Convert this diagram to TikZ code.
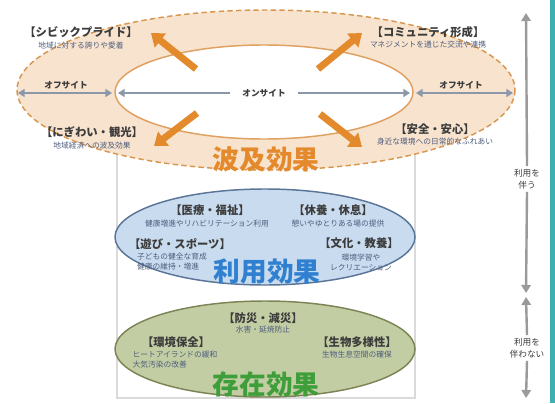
\documentclass[tikz,border=0pt]{standalone}
\usepackage{fontspec}
\setmainfont{Noto Sans CJK JP}
\usepackage{tikz}
\usetikzlibrary{arrows.meta}
\usepackage{color}

\definecolor{peach}{HTML}{F7E3CE}
\definecolor{dashorange}{HTML}{D9964F}
\definecolor{arroworange}{HTML}{E38B2C}
\definecolor{innerorange}{HTML}{E0A060}
\definecolor{sitegray}{HTML}{8C98AA}
\definecolor{bluefill}{HTML}{C9DBEF}
\definecolor{blueline}{HTML}{5A7598}
\definecolor{riyoublue}{HTML}{2F80D0}
\definecolor{greenfill}{HTML}{C3CDA3}
\definecolor{greenline}{HTML}{7C8456}
\definecolor{sonzaigreen}{HTML}{3E9E3A}
\definecolor{hakyuorange}{HTML}{E58A2C}
\definecolor{tealband}{HTML}{3DB0B6}
\definecolor{framegray}{HTML}{DADADA}
\definecolor{axisgray}{HTML}{9A9A9A}
\definecolor{titlegray}{HTML}{3C3C3C}
\definecolor{subblue}{HTML}{4E5D7C}

\begin{document}
\begin{tikzpicture}[x=0.75pt,y=0.75pt,yscale=-1,xscale=1,
  title/.style={font=\bfseries\fontsize{8.5}{10}\selectfont, text=titlegray, inner sep=0pt},
  sub/.style={font=\fontsize{5.8}{7.5}\selectfont, text=subblue, inner sep=0pt, align=center},
  sublft/.style={sub, align=left},
  site/.style={font=\bfseries\fontsize{6.5}{8}\selectfont, text=titlegray, inner sep=0pt},
  effect/.style={font=\bfseries\fontsize{20}{24}\selectfont, inner sep=0pt},
  axislabel/.style={font=\fontsize{6.5}{9}\selectfont, text=titlegray, align=center, inner sep=2pt},
  spread/.style={arroworange, line width=5.2pt, -{Triangle[length=9pt,width=13pt]}},
  sitearrow/.style={sitegray, line width=1.8pt},
  axisarrow/.style={axisgray, line width=1.8pt, -{Triangle[length=6pt,width=7pt]}}]
\useasboundingbox (0,0) rectangle (555,403);

%Shape: Rectangle
\fill [tealband] (550,0) rectangle (555,403);
%Shape: Rectangle
\draw [framegray, line width=1pt] (117,125) rectangle (415,398);

%Shape: Ellipse
\draw [dashorange, line width=1.1pt, dash pattern=on 4pt off 2.5pt, fill=peach] (266,90) ellipse (249 and 80);
%Shape: Ellipse
\draw [innerorange, line width=1.1pt, fill=white] (264,92) ellipse (149 and 47);

%Shape: Ellipse
\draw [blueline, line width=1.1pt, fill=bluefill] (265,237) ellipse (150 and 48);
%Shape: Ellipse
\draw [greenline, line width=1.1pt, fill=greenfill] (265,349) ellipse (150 and 48);

% Coordinates
\coordinate (outerL) at (18,93);
\coordinate (innerLo) at (112,93);
\coordinate (innerLi) at (118,93);
\coordinate (innerRi) at (410,93);
\coordinate (innerRo) at (416,93);
\coordinate (outerR) at (513,93);
\coordinate (nwTail) at (196,69);
\coordinate (nwHead) at (151,33);
\coordinate (neTail) at (318,69);
\coordinate (neHead) at (362,33);
\coordinate (swTail) at (197,113);
\coordinate (swHead) at (154,146);
\coordinate (seTail) at (320,114);
\coordinate (seHead) at (362,147);
\coordinate (useTop) at (526,13);
\coordinate (useBot) at (526,293);
\coordinate (nouseTop) at (526,297);
\coordinate (nouseBot) at (526,398);

%Straight Lines
\draw [spread] (nwTail) -- (nwHead);
%Straight Lines
\draw [spread] (neTail) -- (neHead);
%Straight Lines
\draw [spread] (swTail) -- (swHead);
%Straight Lines
\draw [spread] (seTail) -- (seHead);

% Text Node
\node [site] (offL) at (66,85) {オフサイト};
% Text Node
\node [site] (offR) at (461,85) {オフサイト};
% Text Node
\node [site, inner sep=9pt] (onsite) at (264,93) {オンサイト};

%Straight Lines
\draw [sitearrow, {Triangle[length=5pt,width=6pt]}-{Triangle[length=5pt,width=6pt]}] (outerL) -- (innerLo);
%Straight Lines
\draw [sitearrow, -{Triangle[length=5pt,width=6pt]}] (onsite.west) -- (innerLi);
%Straight Lines
\draw [sitearrow, -{Triangle[length=5pt,width=6pt]}] (onsite.east) -- (innerRi);
%Straight Lines
\draw [sitearrow, {Triangle[length=5pt,width=6pt]}-{Triangle[length=5pt,width=6pt]}] (innerRo) -- (outerR);

% Text Node
\node [title] (civicT) at (81,32) {【シビックプライド】};
% Text Node
\node [sub] (civicS) at (81,46) {地域に対する誇りや愛着};
% Text Node
\node [title] (commuT) at (428,32) {【コミュニティ形成】};
% Text Node
\node [sub] (commuS) at (428,45) {マネジメントを通じた交流や連携};
% Text Node
\node [title] (nigiT) at (92,132) {【にぎわい・観光】};
% Text Node
\node [sub] (nigiS) at (92,146) {地域経済への波及効果};
% Text Node
\node [title] (anzenT) at (435,129) {【安全・安心】};
% Text Node
\node [sub] (anzenS) at (435,142) {身近な環境への日常的なふれあい};
% Text Node
\node [effect, text=hakyuorange] (hakyu) at (266,159) {波及効果};

% Text Node
\node [title] (iryoT) at (210,210) {【医療・福祉】};
% Text Node
\node [sub] (iryoS) at (207,224) {健康増進やリハビリテーション利用};
% Text Node
\node [title] (kyuyoT) at (333,210) {【休養・休息】};
% Text Node
\node [sub] (kyuyoS) at (338,224) {憩いやゆとりある場の提供};
% Text Node
\node [title] (asobiT) at (180,244) {【遊び・スポーツ】};
% Text Node
\node [sublft] (asobiS) at (172,262) {子どもの健全な育成\\健康の維持・増進};
% Text Node
\node [title] (bunkaT) at (359,243) {【文化・教養】};
% Text Node
\node [sub] (bunkaS) at (361,262) {環境学習や\\レクリエーション};
% Text Node
\node [effect, text=riyoublue] (riyou) at (267,271) {利用効果};

% Text Node
\node [title] (bosaiT) at (263,318) {【防災・減災】};
% Text Node
\node [sub] (bosaiS) at (263,330) {水害・延焼防止};
% Text Node
\node [title] (kankyoT) at (176,342) {【環境保全】};
% Text Node
\node [sublft] (kankyoS) at (175,360) {ヒートアイランドの緩和\\大気汚染の改善};
% Text Node
\node [title] (seibutsuT) at (357,342) {【生物多様性】};
% Text Node
\node [sub] (seibutsuS) at (357,355) {生物生息空間の確保};
% Text Node
\node [effect, text=sonzaigreen] (sonzai) at (266,384) {存在効果};

% Text Node
\node [axislabel] (useL) at (527,179) {利用を\\伴う};
% Text Node
\node [axislabel] (nouseL) at (527,348) {利用を\\伴わない};

%Straight Lines
\draw [axisarrow] (useL.north) -- (useTop);
%Straight Lines
\draw [axisarrow] (useL.south) -- (useBot);
%Straight Lines
\draw [axisarrow] (nouseL.north) -- (nouseTop);
%Straight Lines
\draw [axisarrow] (nouseL.south) -- (nouseBot);

\end{tikzpicture}
\end{document}
